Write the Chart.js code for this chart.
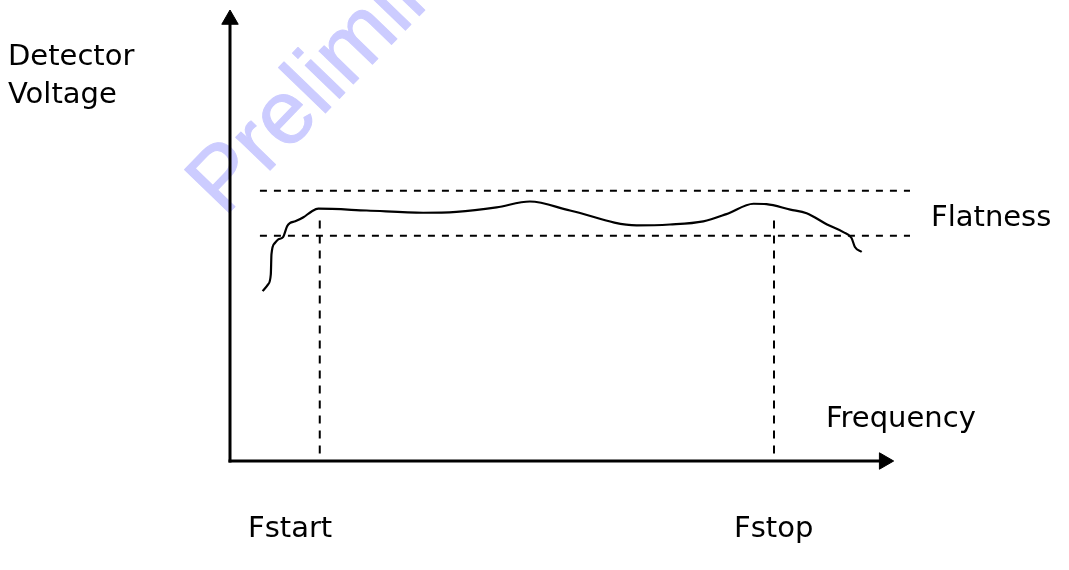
<!DOCTYPE html>
<html>
<head>
<meta charset="utf-8">
<script src="https://cdn.jsdelivr.net/npm/chart.js@4"></script>
<style>
  html, body { margin: 0; padding: 0; background: #ffffff; }
  #wrap { width: 1069px; height: 570px; }
</style>
</head>
<body>
<div id="wrap"><canvas id="c" width="1069" height="570"></canvas></div>
<script>
// ---- data (abstract units: frequency 0..10, detector voltage 0..10) ----
const freq    = [0.48, 0.56, 0.60, 0.61, 0.66, 0.71, 0.78, 0.84, 0.88, 0.96, 1.08, 1.20, 1.30, 2.01, 2.84, 3.33, 3.92, 4.41, 5.00, 5.98, 6.47, 6.96, 7.30, 7.70, 7.89, 8.24, 8.48, 8.78, 9.02, 9.14, 9.19, 9.29];
const voltage = [3.77, 3.92, 4.14, 4.59, 4.84, 4.92, 4.97, 5.21, 5.28, 5.32, 5.41, 5.54, 5.60, 5.56, 5.51, 5.53, 5.63, 5.76, 5.56, 5.23, 5.25, 5.32, 5.48, 5.71, 5.70, 5.58, 5.50, 5.25, 5.08, 4.95, 4.75, 4.64];
const flatnessLow  = 5.0;
const flatnessHigh = 6.0;
const flatnessFrom = 0.44;
const flatnessTo   = 10.0;
const fStart = 1.32;
const fStop  = 8.0;
const markerTop = 5.34;
const xAxisEnd = 9.62;
const yAxisEnd = 9.80;
const labelTexts = {
  yTitle1: "Detector",
  yTitle2: "Voltage",
  band: "Flatness",
  xTitle: "Frequency",
  start: "Fstart",
  stop: "Fstop",
  watermark: "Preliminary"
};

const curve = freq.map((f, i) => ({ x: f, y: voltage[i] }));

const hDash = [7, 7];
const vDash = [8, 7];
const textPlugin = {
  id: 'texts',
  beforeDatasetsDraw(chart) {
    const ctx = chart.ctx;
    ctx.save();
    ctx.translate(224, 218);
    ctx.rotate(-46 * Math.PI / 180);
    ctx.font = '90px "Liberation Sans", Arial, sans-serif';
    ctx.fillStyle = '#ccccff';
    ctx.strokeStyle = '#ccccff';
    ctx.lineWidth = 1;
    ctx.lineJoin = 'round';
    ctx.textBaseline = 'alphabetic';
    ctx.fillText(labelTexts.watermark, 0, 0);
    ctx.strokeText(labelTexts.watermark, 0, 0);
    ctx.restore();
  },
  afterDatasetsDraw(chart) {
    const ctx = chart.ctx;
    ctx.save();
    ctx.font = '29px "DejaVu Sans", sans-serif';
    ctx.fillStyle = '#000';
    ctx.textBaseline = 'alphabetic';
    ctx.textAlign = 'left';
    ctx.fillText(labelTexts.yTitle1, 8, 65);
    ctx.fillText(labelTexts.yTitle2, 8, 103);
    ctx.fillText(labelTexts.band, 931, 226);
    ctx.fillText(labelTexts.xTitle, 826, 427);
    ctx.fillText(labelTexts.start, 248, 537);
    ctx.fillText(labelTexts.stop, 734, 537);
    ctx.restore();
  }
};

new Chart(document.getElementById('c'), {
  type: 'scatter',
  data: {
    datasets: [
      { data: curve, showLine: true, borderColor: '#000', borderWidth: 2.2, pointRadius: 0, cubicInterpolationMode: 'monotone', clip: false },
      { data: [{x: flatnessFrom, y: flatnessHigh}, {x: flatnessTo, y: flatnessHigh}], showLine: true, borderColor: '#000', borderWidth: 2, borderDash: hDash, pointRadius: 0, clip: false },
      { data: [{x: flatnessFrom, y: flatnessLow}, {x: flatnessTo, y: flatnessLow}], showLine: true, borderColor: '#000', borderWidth: 2, borderDash: hDash, pointRadius: 0, clip: false },
      { data: [{x: fStart, y: markerTop}, {x: fStart, y: 0}], showLine: true, borderColor: '#000', borderWidth: 2, borderDash: vDash, pointRadius: 0, clip: false },
      { data: [{x: fStop, y: markerTop}, {x: fStop, y: 0}], showLine: true, borderColor: '#000', borderWidth: 2, borderDash: vDash, pointRadius: 0, clip: false },
      { data: [{x: 0, y: 0}, {x: xAxisEnd, y: 0}], showLine: true, borderColor: '#000', borderWidth: 3, borderCapStyle: 'square',
        pointRadius: [0, 9.5], pointStyle: 'triangle', pointRotation: 90, pointBackgroundColor: '#000', pointBorderColor: '#000', pointBorderWidth: 1, clip: false },
      { data: [{x: 0, y: 0}, {x: 0, y: yAxisEnd}], showLine: true, borderColor: '#000', borderWidth: 3, borderCapStyle: 'square',
        pointRadius: [0, 9.5], pointStyle: 'triangle', pointRotation: 0, pointBackgroundColor: '#000', pointBorderColor: '#000', pointBorderWidth: 1, clip: false }
    ]
  },
  options: {
    responsive: false,
    animation: false,
    layout: { padding: { left: 230, right: 159, top: 8, bottom: 109 } },
    plugins: { legend: { display: false }, tooltip: { enabled: false } },
    scales: {
      x: { type: 'linear', min: 0, max: 10, display: false },
      y: { type: 'linear', min: 0, max: 10, display: false }
    }
  },
  plugins: [textPlugin]
});
</script>
</body>
</html>
